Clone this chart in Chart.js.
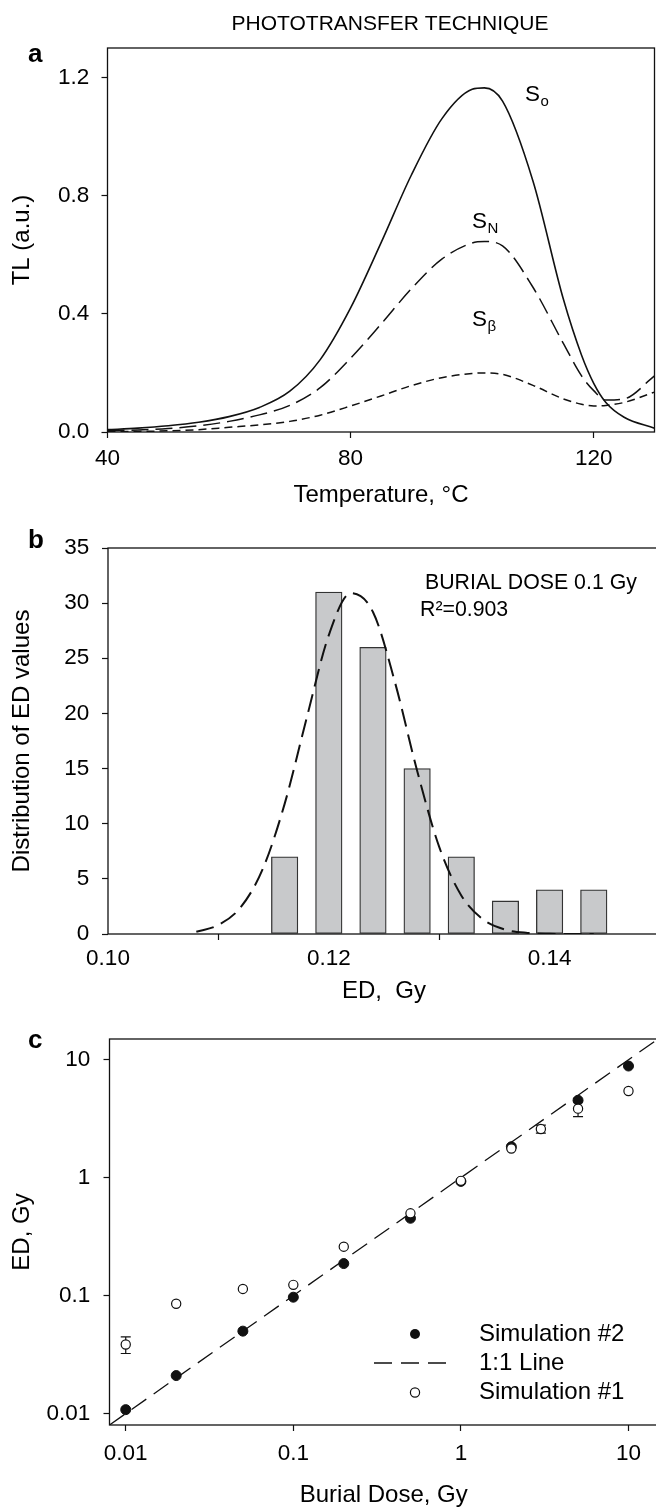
<!DOCTYPE html>
<html>
<head>
<meta charset="utf-8">
<script src="https://cdn.jsdelivr.net/npm/chart.js@4.4.1/dist/chart.umd.min.js"></script>
<style>
  html, body { margin: 0; padding: 0; background: #fff; }
  #page { position: relative; width: 656px; height: 1509px; overflow: hidden; background: #fff; }
  #page canvas { position: absolute; left: 0; }
</style>
</head>
<body>
<div id="page">
  <canvas id="panelA" width="656" height="515" style="top:0px"></canvas>
  <canvas id="panelB" width="662" height="495" style="top:515px"></canvas>
  <canvas id="panelC" width="664" height="500" style="top:1010px"></canvas>
</div>
<script>
// ---------- panel a: TL glow curves ----------
const temperatureC = [40, 45, 50, 55, 60, 65, 70, 75, 80, 85, 90, 95, 100, 102, 105, 110, 115, 118, 120, 122, 125, 130];
const tlS0    = [0.008, 0.013, 0.021, 0.033, 0.052, 0.083, 0.138, 0.245, 0.42, 0.64, 0.87, 1.06, 1.16, 1.165, 1.12, 0.85, 0.45, 0.26, 0.165, 0.10, 0.05, 0.013];
const tlSN    = [0.004, 0.007, 0.012, 0.021, 0.036, 0.058, 0.09, 0.15, 0.25, 0.365, 0.485, 0.585, 0.64, 0.645, 0.63, 0.49, 0.30, 0.19, 0.14, 0.108, 0.112, 0.19];
const tlSBeta = [0.001, 0.002, 0.004, 0.008, 0.016, 0.024, 0.036, 0.057, 0.088, 0.122, 0.157, 0.184, 0.198, 0.2, 0.195, 0.158, 0.112, 0.094, 0.088, 0.09, 0.1, 0.135];
const tempTicks = [40, 80, 120];
const tlTicks = [0, 0.4, 0.8, 1.2];

// ---------- panel b: ED histogram with fitted curve ----------
const edBinCentres = [0.116, 0.120, 0.124, 0.128, 0.132, 0.136, 0.140, 0.144];
const edCounts = [7, 31, 26, 15, 7, 3, 4, 4];
const fitEd    = [0.108, 0.110, 0.112, 0.114, 0.116, 0.118, 0.120, 0.122, 0.124, 0.126, 0.128, 0.130, 0.132, 0.134, 0.136, 0.138, 0.140, 0.142, 0.144];
const fitCount = [0.2, 0.82, 2.4, 5.85, 11.8, 19.6, 27.1, 30.9, 29.2, 22.8, 14.8, 7.9, 3.5, 1.3, 0.39, 0.1, 0.02, 0, 0];
const edTicks = [0.10, 0.12, 0.14];
const countTicks = [0, 5, 10, 15, 20, 25, 30, 35];

// ---------- panel c: recovered ED against burial dose ----------
const burialDose2 = [0.01, 0.02, 0.05, 0.1, 0.2, 0.5, 1, 2, 5, 10];
const edSim2      = [0.0108, 0.021, 0.050, 0.097, 0.187, 0.453, 0.93, 1.83, 4.53, 8.85];
const burialDose1 = [0.01, 0.02, 0.05, 0.1, 0.2, 0.5, 1, 2, 3, 5, 10];
const edSim1      = [0.0385, 0.0853, 0.114, 0.1234, 0.26, 0.499, 0.94, 1.77, 2.59, 3.85, 5.43];
const edSim1Err   = [0.0062, 0, 0, 0, 0, 0, 0, 0, 0.2, 0.55, 0];
const oneToOne    = [0.008, 15];
const doseTicks = [0.01, 0.1, 1, 10];

const FONT = '"Liberation Sans", Arial, Helvetica, sans-serif';
const INK = '#111';
Chart.defaults.font.family = FONT;
Chart.defaults.color = '#000';
Chart.defaults.animation = false;

function axis(opts) {
  const horizontal = opts.position === 'bottom';
  return {
    type: opts.type || 'linear',
    position: opts.position,
    min: opts.min,
    max: opts.max,
    offset: false,
    afterBuildTicks: s => { s.ticks = opts.ticks.map(v => ({ value: v })); },
    afterFit: s => { if (horizontal) s.height = opts.size; else s.width = opts.size; },
    grid: { drawOnChartArea: false, drawTicks: true, tickLength: 6, tickColor: INK, tickWidth: 1.2 },
    border: { display: false },
    ticks: {
      autoSkip: false, maxRotation: 0, minRotation: 0,
      padding: opts.tickPad,
      font: { size: 22.5 }, color: '#000',
      callback: opts.format
    },
    title: {
      display: true, text: opts.title, color: '#000',
      font: { size: 24 },
      padding: { top: opts.titlePad, bottom: opts.titlePad }
    }
  };
}

const framePlugin = {
  id: 'frame',
  afterDatasetsDraw(chart) {
    const { ctx, chartArea: a } = chart;
    ctx.save();
    ctx.strokeStyle = INK;
    ctx.lineWidth = 1.3;
    ctx.strokeRect(a.left, a.top, a.right - a.left, a.bottom - a.top);
    ctx.restore();
  }
};

function textAt(ctx, str, x, y, size, opts = {}) {
  ctx.save();
  ctx.font = (opts.bold ? 'bold ' : '') + size + 'px ' + FONT;
  ctx.fillStyle = '#000';
  ctx.textAlign = opts.align || 'left';
  ctx.textBaseline = opts.baseline || 'middle';
  ctx.fillText(str, x, y);
  const w = ctx.measureText(str).width;
  ctx.restore();
  return w;
}

function subscripted(ctx, main, sub, x, y) {
  const w = textAt(ctx, main, x, y, 22.5);
  textAt(ctx, sub, x + w + 0.5, y + 7, 15);
}

// ---------- panel a ----------
new Chart(document.getElementById('panelA'), {
  type: 'line',
  data: {
    datasets: [
      { label: 'So', data: temperatureC.map((t, i) => ({ x: t, y: tlS0[i] })), borderColor: INK, borderWidth: 1.6 },
      { label: 'SN', data: temperatureC.map((t, i) => ({ x: t, y: tlSN[i] })), borderColor: INK, borderWidth: 1.5, borderDash: [17, 7] },
      { label: 'Sβ', data: temperatureC.map((t, i) => ({ x: t, y: tlSBeta[i] })), borderColor: INK, borderWidth: 1.5, borderDash: [8, 5] }
    ]
  },
  options: {
    responsive: false,
    elements: { point: { radius: 0 }, line: { cubicInterpolationMode: 'monotone', fill: false } },
    layout: { padding: { top: 48, right: 1.5, left: 0, bottom: 0 } },
    plugins: { legend: { display: false }, tooltip: { enabled: false } },
    scales: {
      x: axis({ position: 'bottom', min: 40, max: 130, ticks: tempTicks, size: 83, tickPad: 6.8,
                format: v => String(v), title: 'Temperature, °C', titlePad: 5.6 }),
      y: axis({ position: 'left', min: 0, max: 1.3, ticks: tlTicks, size: 107.5, tickPad: 12.2,
                format: v => v.toFixed(1), title: 'TL (a.u.)', titlePad: 7.6 })
    }
  },
  plugins: [framePlugin, {
    id: 'panelAText',
    afterDraw(chart) {
      const ctx = chart.ctx;
      textAt(ctx, 'PHOTOTRANSFER TECHNIQUE', 390, 24, 21, { align: 'center' });
      textAt(ctx, 'a', 28, 62, 26, { bold: true, baseline: 'alphabetic' });
      subscripted(ctx, 'S', 'o', 525, 95);
      subscripted(ctx, 'S', 'N', 472, 222);
      subscripted(ctx, 'S', 'β', 472, 320);
    }
  }]
});

// ---------- panel b ----------
new Chart(document.getElementById('panelB'), {
  type: 'bar',
  data: {
    datasets: [
      { type: 'line', data: fitEd.map((x, i) => ({ x, y: fitCount[i] })), borderColor: INK, borderWidth: 2,
        borderDash: [18, 8], pointRadius: 0, cubicInterpolationMode: 'monotone', fill: false, order: 0 },
      { type: 'bar', data: edBinCentres.map((x, i) => ({ x, y: edCounts[i] })), backgroundColor: '#c8c9cb',
        borderColor: '#333', borderWidth: 1.3, borderSkipped: false, barThickness: 26.5, order: 1 }
    ]
  },
  options: {
    responsive: false,
    layout: { padding: { top: 33, right: 2, left: 0, bottom: 0 } },
    plugins: { legend: { display: false }, tooltip: { enabled: false } },
    scales: {
      x: axis({ position: 'bottom', min: 0.10, max: 0.15, ticks: edTicks, size: 76, tickPad: 4.8,
                format: v => v.toFixed(2), title: 'ED,  Gy', titlePad: 4.6 }),
      y: axis({ position: 'left', min: 0, max: 35, ticks: countTicks, size: 108, tickPad: 12.7,
                format: v => String(v), title: 'Distribution of ED values', titlePad: 7.6 })
    }
  },
  plugins: [framePlugin, {
    id: 'panelBText',
    afterDraw(chart) {
      const ctx = chart.ctx;
      textAt(ctx, 'b', 28, 33, 26, { bold: true, baseline: 'alphabetic' });
      textAt(ctx, 'BURIAL DOSE 0.1 Gy', 425, 68, 21.3);
      textAt(ctx, 'R²=0.903', 420, 95, 21.3);
    }
  }]
});

// ---------- panel c ----------
const errorBars = {
  id: 'errorBars',
  beforeDatasetsDraw(chart) {
    const { ctx, scales: { x, y } } = chart;
    ctx.save();
    ctx.strokeStyle = INK;
    ctx.lineWidth = 1.2;
    burialDose1.forEach((d, i) => {
      const e = edSim1Err[i];
      if (!e) return;
      const px = x.getPixelForValue(d);
      const lo = y.getPixelForValue(edSim1[i] - e);
      const hi = y.getPixelForValue(edSim1[i] + e);
      ctx.beginPath();
      ctx.moveTo(px, lo); ctx.lineTo(px, hi);
      ctx.moveTo(px - 5, lo); ctx.lineTo(px + 5, lo);
      ctx.moveTo(px - 5, hi); ctx.lineTo(px + 5, hi);
      ctx.stroke();
    });
    ctx.restore();
  }
};

new Chart(document.getElementById('panelC'), {
  type: 'scatter',
  data: {
    datasets: [
      { label: 'Simulation #1', data: burialDose1.map((x, i) => ({ x, y: edSim1[i] })),
        pointRadius: 4.6, pointBackgroundColor: '#fff', pointBorderColor: INK, pointBorderWidth: 1.2, order: 0 },
      { label: 'Simulation #2', data: burialDose2.map((x, i) => ({ x, y: edSim2[i] })),
        pointRadius: 5, pointBackgroundColor: INK, pointBorderColor: INK, pointBorderWidth: 1, order: 1 },
      { type: 'line', label: '1:1 Line', data: oneToOne.map(v => ({ x: v, y: v })), borderColor: INK,
        borderWidth: 1.3, borderDash: [18, 9], pointRadius: 0, fill: false, order: 2 }
    ]
  },
  options: {
    responsive: false,
    layout: { padding: { top: 29, right: 2.5, left: 0, bottom: 0 } },
    plugins: { legend: { display: false }, tooltip: { enabled: false } },
    scales: {
      x: axis({ type: 'logarithmic', position: 'bottom', min: 0.008, max: 15, ticks: doseTicks, size: 85, tickPad: 9.5,
                format: v => String(v), title: 'Burial Dose, Gy', titlePad: 0.6 }),
      y: axis({ type: 'logarithmic', position: 'left', min: 0.008, max: 15, ticks: doseTicks, size: 109.5, tickPad: 13.2,
                format: v => String(v), title: 'ED, Gy', titlePad: 7.6 })
    }
  },
  plugins: [framePlugin, errorBars, {
    id: 'panelCText',
    afterDraw(chart) {
      const ctx = chart.ctx;
      textAt(ctx, 'c', 28, 38, 26, { bold: true, baseline: 'alphabetic' });
      ctx.save();
      ctx.fillStyle = INK;
      ctx.beginPath(); ctx.arc(415, 324, 5, 0, Math.PI * 2); ctx.fill();
      ctx.strokeStyle = INK; ctx.lineWidth = 1.3; ctx.setLineDash([18, 9]);
      ctx.beginPath(); ctx.moveTo(374, 353); ctx.lineTo(451, 353); ctx.stroke();
      ctx.setLineDash([]); ctx.lineWidth = 1.2; ctx.fillStyle = '#fff';
      ctx.beginPath(); ctx.arc(415, 382.5, 4.6, 0, Math.PI * 2); ctx.fill(); ctx.stroke();
      ctx.restore();
      textAt(ctx, 'Simulation #2', 479, 324, 24);
      textAt(ctx, '1:1 Line', 479, 353, 24);
      textAt(ctx, 'Simulation #1', 479, 382.5, 24);
    }
  }]
});
</script>
</body>
</html>
